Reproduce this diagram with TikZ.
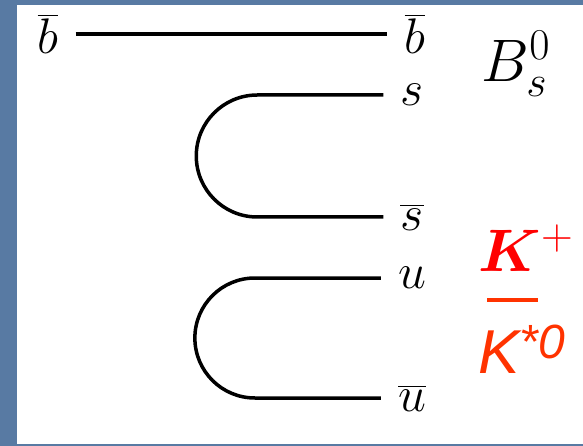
\RequirePackage{fix-cm}
\documentclass[tikz,border=0pt]{standalone}
\usepackage{amsmath,bm}
\usepackage{fontspec}
\newfontfamily\kaonfont{Liberation Sans}
\usepackage{tikz}
\usetikzlibrary{positioning}
\newcommand{\bigscr}[1]{\mbox{\fontsize{44}{44}\selectfont$#1$}}
\definecolor{slideblue}{RGB}{88,122,163}
\definecolor{kstarred}{RGB}{255,51,0}

\begin{document}
\begin{tikzpicture}[x=1pt, y=-1pt,
    quark/.style={line width=4pt},
    loopline/.style={line width=3.5pt},
    flav/.style={font=\fontsize{50}{50}\selectfont, inner sep=17pt},
    meson/.style={font=\fontsize{60}{60}\selectfont, inner sep=2pt}]
  % slide background and white panel
  \fill[slideblue] (0,0) rectangle (583,446);
  \fill[white] (17,5) rectangle (583,444);
  \useasboundingbox (0,0) rectangle (583,446);

  % quark labels
  \node[flav] (bl) at (48,34) {$\overline{b}$};
  \node[flav] (br) at (415,34) {$\overline{b}$};
  \node[flav] (sq) at (412,95) {$s$};
  \node[flav] (sb) at (412,217) {$\overline{s}$};
  \node[flav] (uq) at (412,278) {$u$};
  \node[flav] (ub) at (412,398) {$\overline{u}$};

  % meson labels
  \node[meson] (bs) at (516,64) {$B_{\bigscr{s}}^{\bigscr{0}}$};
  \node[meson, text=red] (kp) at (526,248) {$\bm{K}^{\bigscr{+}}$};
  \node[meson, text=kstarred, font=\kaonfont\itshape\fontsize{62}{62}\selectfont] (ks) at (522,349)
      {K\raisebox{15pt}{\fontsize{48}{48}\selectfont *0}};
  \coordinate (kbar) at (487,300);

  % quark lines
  \draw[quark] (bl) -- (br);
  \draw[loopline] (sq.west) -- ++(-126,0)
      arc[start angle=90, end angle=270, radius=61pt] -- (sb.west);
  \draw[loopline] (uq.west) -- ++(-126,0)
      arc[start angle=90, end angle=270, radius=60pt] -- (ub.west);
  \draw[kstarred, line width=3.5pt] (kbar) -- ++(51,0);
\end{tikzpicture}
\end{document}
